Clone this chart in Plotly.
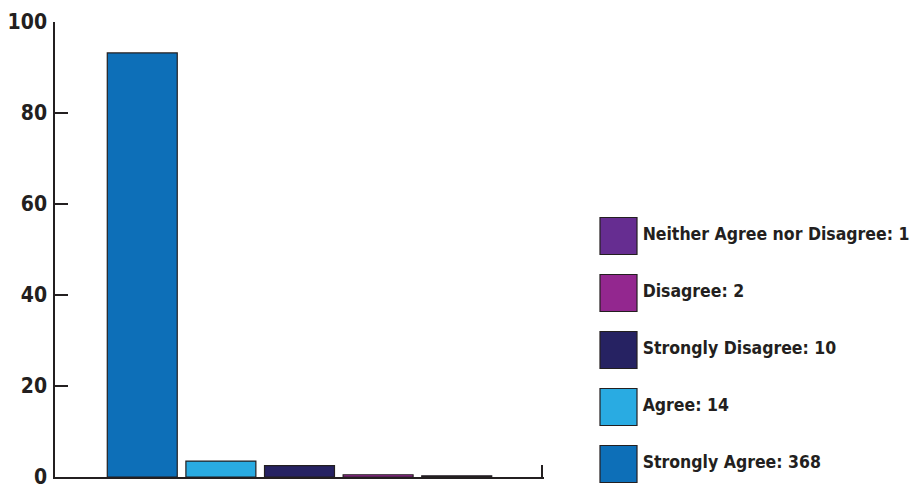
import plotly.graph_objects as go

# Bar order (left to right)
bar_categories = ["Strongly Agree", "Agree", "Strongly Disagree", "Disagree", "Neither Agree nor Disagree"]
bar_percent = [93.2, 3.5, 2.5, 0.5, 0.25]
bar_colors = ["#0d6fb8", "#29abe2", "#262262", "#93278f", "#662d91"]

# Legend order (top to bottom)
legend_categories = ["Neither Agree nor Disagree", "Disagree", "Strongly Disagree", "Agree", "Strongly Agree"]
legend_counts = [1, 2, 10, 14, 368]
legend_colors = ["#662d91", "#93278f", "#262262", "#29abe2", "#0d6fb8"]

y_ticks = [0, 20, 40, 60, 80, 100]

INK = "#231f20"
FONT = "DejaVu Sans Condensed"

W, H = 916, 496

fig = go.Figure()

fig.add_trace(go.Bar(
    x=list(range(len(bar_categories))),
    y=bar_percent,
    marker=dict(color=bar_colors, line=dict(color=INK, width=1.2)),
    width=0.89,
    hoverinfo="skip",
    showlegend=False,
    xaxis="x", yaxis="y",
))

legend_labels = [f"{c}: {n}" for c, n in zip(legend_categories, legend_counts)]
fig.add_trace(go.Scatter(
    x=[0] * len(legend_labels),
    y=list(range(len(legend_labels))),
    mode="markers+text",
    marker=dict(symbol="square", size=37, color=legend_colors, line=dict(color=INK, width=1.2)),
    text=legend_labels,
    textposition="middle right",
    textfont=dict(family=FONT, size=17.5, color=INK, weight="bold"),
    hoverinfo="skip",
    showlegend=False,
    xaxis="x2", yaxis="y2",
    cliponaxis=False,
))

x0, x1 = 55, 544
y_top, y_bot = 22, 477
fig.update_layout(
    width=W, height=H,
    margin=dict(l=0, r=0, t=0, b=0),
    paper_bgcolor="white", plot_bgcolor="white",
    showlegend=False,
    xaxis=dict(
        domain=[x0 / W, x1 / W],
        range=[-1.11, 5.11],
        showgrid=False, zeroline=False,
        showline=True, linecolor=INK, linewidth=1.5,
        tickvals=[5.09], ticktext=[""], ticks="inside", ticklen=12,
        tickcolor=INK, tickwidth=1.5,
        showticklabels=True, fixedrange=True,
    ),
    yaxis=dict(
        domain=[(H - y_bot) / H, (H - y_top) / H],
        range=[0, 100],
        tickvals=y_ticks,
        ticks="inside", ticklen=13, tickcolor=INK, tickwidth=1.5,
        showline=True, linecolor=INK, linewidth=1.5,
        showgrid=False, zeroline=False,
        tickfont=dict(family=FONT, size=21, color=INK, weight="bold"),
        ticklabelstandoff=2,
        automargin=False, fixedrange=True,
    ),
    xaxis2=dict(
        domain=[600 / W, 1.0],
        range=[-18.5, 297.5],
        visible=False, fixedrange=True,
    ),
    yaxis2=dict(
        domain=[(H - 483) / H, (H - 217) / H],
        range=[4.333, -0.333],
        visible=False, fixedrange=True,
    ),
)

fig.write_html(
    "out.html",
    config={"displayModeBar": False},
    post_script="document.body.style.margin='0';document.body.style.overflow='hidden';",
)
